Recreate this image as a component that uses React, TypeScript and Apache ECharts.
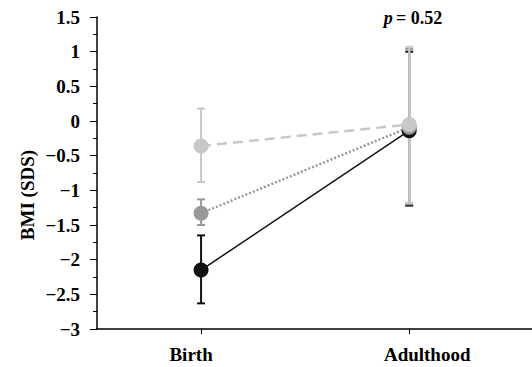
import React, { useEffect, useRef } from "react";
import * as echarts from "echarts";

const categories = ["Birth", "Adulthood"];
const categoryX = [1, 2];
const yTicks = [-3, -2.5, -2, -1.5, -1, -0.5, 0, 0.5, 1, 1.5];

const blackMean = [-2.15, -0.14];
const blackLow = [-2.63, -1.22];
const blackHigh = [-1.65, 1.0];

const darkMean = [-1.33, -0.09];
const darkLow = [-1.5, -1.2];
const darkHigh = [-1.13, 1.04];

const lightMean = [-0.36, -0.05];
const lightLow = [-0.88, -1.18];
const lightHigh = [0.18, 1.07];

const SERIF = "'Liberation Serif', 'Times New Roman', serif";

function errSeries(low: number[], high: number[], color: string, width: number) {
  return {
    type: "custom",
    silent: true,
    data: categoryX.map((x, i) => [x, low[i], high[i]]),
    renderItem: (params: any, api: any) => {
      const x = api.value(0);
      const lo = api.coord([x, api.value(1)]);
      const hi = api.coord([x, api.value(2)]);
      const cap = 4;
      const style = { stroke: color, lineWidth: width };
      return {
        type: "group",
        children: [
          { type: "line", shape: { x1: lo[0], y1: lo[1], x2: hi[0], y2: hi[1] }, style },
          { type: "line", shape: { x1: lo[0] - cap, y1: lo[1], x2: lo[0] + cap, y2: lo[1] }, style },
          { type: "line", shape: { x1: hi[0] - cap, y1: hi[1], x2: hi[0] + cap, y2: hi[1] }, style },
        ],
      };
    },
  };
}

function lineSeries(mean: number[], color: string, lineType: any, width: number) {
  return {
    type: "line",
    data: categoryX.map((x, i) => [x, mean[i]]),
    symbol: "circle",
    symbolSize: 15,
    itemStyle: { color },
    lineStyle: { color, type: lineType, width },
  };
}

export default function App() {
  const ref = useRef<HTMLDivElement>(null);
  useEffect(() => {
    const chart = echarts.init(ref.current!, null, { renderer: "svg" });
    chart.setOption({
      animation: false,
      backgroundColor: "#ffffff",
      grid: { left: 97, right: 0, top: 17, bottom: 38 },
      xAxis: {
        type: "value",
        min: 0.5,
        max: 2.59,
        splitLine: { show: false },
        axisLine: { onZero: false, lineStyle: { color: "#000", width: 1.5 } },
        axisTick: { customValues: categoryX, length: 5, lineStyle: { color: "#000", width: 1 } },
        axisLabel: {
          customValues: categoryX,
          formatter: (v: number) => (v === 1 ? "{a|" + categories[0] + "}" : "{b|" + categories[1] + "}"),
          margin: 16,
          rich: {
            a: { fontFamily: SERIF, fontWeight: "bold", fontSize: 19, color: "#000", padding: [0, 20, 0, 0] },
            b: { fontFamily: SERIF, fontWeight: "bold", fontSize: 19, color: "#000", padding: [0, 0, 0, 36] },
          },
        },
      },
      yAxis: {
        type: "value",
        min: -3,
        max: 1.5,
        interval: 0.5,
        splitLine: { show: false },
        axisLine: { show: true, onZero: false, lineStyle: { color: "#000", width: 1.5 } },
        axisTick: { show: true, length: 7, lineStyle: { color: "#000" } },
        minorTick: { show: true, splitNumber: 2, length: 4, lineStyle: { color: "#000" } },
        axisLabel: {
          customValues: yTicks,
          formatter: (v: number) => (v < 0 ? "\u2212" + String(-v) : String(v)),
          margin: 17,
          color: "#000",
          fontFamily: SERIF,
          fontWeight: "bold",
          fontSize: 19,
        },
      },
      graphic: [
        {
          type: "text",
          x: 27,
          y: 195,
          rotation: Math.PI / 2,
          style: {
            text: "BMI (SDS)",
            fontFamily: SERIF,
            fontWeight: "bold",
            fontSize: 19,
            fill: "#000",
            align: "center",
            verticalAlign: "middle",
          },
        },
        {
          type: "text",
          x: 413,
          y: 18,
          style: {
            text: "{i|p} {b|= 0.52}",
            align: "center",
            verticalAlign: "middle",
            rich: {
              i: { fontFamily: SERIF, fontWeight: "bold", fontStyle: "italic", fontSize: 18, fill: "#000" },
              b: { fontFamily: SERIF, fontWeight: "bold", fontSize: 18, fill: "#000" },
            },
          },
        },
      ],
      series: [
        errSeries(blackLow, blackHigh, "#111111", 2),
        lineSeries(blackMean, "#111111", "solid", 1.5),
        errSeries(darkLow, darkHigh, "#999999", 2),
        lineSeries(darkMean, "#999999", [2, 2], 2.5),
        errSeries(lightLow, lightHigh, "#c8c8c8", 2),
        lineSeries(lightMean, "#c8c8c8", [10, 6], 2.5),
      ],
    });
    return () => chart.dispose();
  }, []);
  return <div ref={ref} style={{ position: "fixed", left: 0, top: 0, width: 532, height: 367 }} />;
}
